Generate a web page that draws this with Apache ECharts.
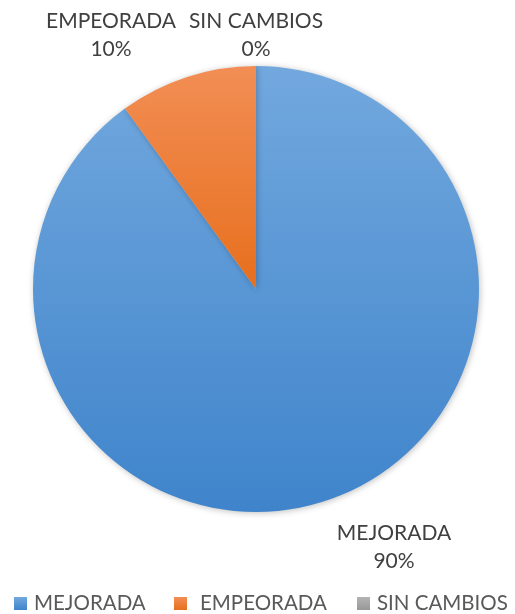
<!DOCTYPE html>
<html>
<head>
<meta charset="utf-8">
<script src="https://cdn.jsdelivr.net/npm/echarts@6/dist/echarts.min.js"></script>
<style>
  html, body { margin: 0; padding: 0; background: #ffffff; }
  #chart { width: 515px; height: 614px; }
</style>
</head>
<body>
<div id="chart"></div>
<script>
// Resultado del tratamiento (porcentaje de casos)
const categories = ['MEJORADA', 'EMPEORADA', 'SIN CAMBIOS'];
const values = [90, 10, 0];

const gradients = [
  ['#72a8de', '#3f84cb'],
  ['#f28e55', '#e76f1d'],
  ['#b4b4b4', '#989898']
];

// Label anchor points (centre of each two-line label), in pixels
const labelAnchors = [
  [394, 547],
  [111, 35],
  [256, 35]
];

// Legend entry left edges and icon-to-text gaps
const legendLefts = [14, 174, 357];
const legendTextGaps = [2, 8, 2];

function grad(c) {
  return new echarts.graphic.LinearGradient(0, 0, 0, 1, [
    { offset: 0, color: c[0] },
    { offset: 1, color: c[1] }
  ]);
}

const chart = echarts.init(document.getElementById('chart'), null, { renderer: 'canvas' });

const textStyle = {
  fontFamily: 'Lato',
  fontSize: 21,
  color: '#404040'
};

chart.setOption({
  animation: false,
  legend: categories.map((name, i) => ({
    top: 593,
    left: legendLefts[i],
    padding: 0,
    icon: 'rect',
    itemWidth: 13,
    itemHeight: 13,
    textStyle: { fontFamily: 'Lato', fontSize: 20.5, color: '#595959', padding: [0, 0, 0, legendTextGaps[i]] },
    data: [name]
  })),
  series: [{
    type: 'pie',
    center: [256, 289],
    radius: 223,
    startAngle: 90,
    clockwise: true,
    percentPrecision: 0,
    stillShowZeroSum: true,
    minShowLabelAngle: 0,
    avoidLabelOverlap: false,
    label: Object.assign({
      show: true,
      formatter: '{b}\n{d}%',
      lineHeight: 28,
      align: 'center'
    }, textStyle),
    labelLine: { show: false },
    labelLayout: function (params) {
      const p = labelAnchors[params.dataIndex];
      return { x: p[0], y: p[1], align: 'center', verticalAlign: 'middle' };
    },
    itemStyle: {
      borderWidth: 0,
      shadowBlur: 6,
      shadowColor: 'rgba(0,0,0,0.25)',
      shadowOffsetX: 1,
      shadowOffsetY: 1
    },
    emphasis: { disabled: true },
    data: categories.map((name, i) => ({
      name: name,
      value: values[i],
      itemStyle: { color: grad(gradients[i]) }
    }))
  }]
});
</script>
</body>
</html>
